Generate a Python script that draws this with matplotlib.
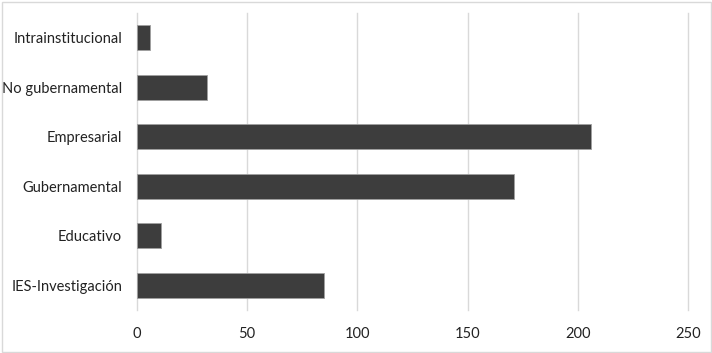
import matplotlib
matplotlib.use("Agg")
import matplotlib.pyplot as plt
from matplotlib.patches import Rectangle

categories = ["IES-Investigación", "Educativo", "Gubernamental",
              "Empresarial", "No gubernamental", "Intrainstitucional"]
values = [85, 11, 171, 206, 32, 6]
xticks = [0, 50, 100, 150, 200, 250]

plt.rcParams["font.family"] = ["Lato", "DejaVu Sans"]

fig = plt.figure(figsize=(7.12, 3.53), dpi=100)
ax = fig.add_axes([136.7 / 712, 1 - 310 / 353, (688.3 - 136.7) / 712, (310 - 13) / 353])

y = range(len(categories))
ax.barh(y, values, height=0.5, color="#3d3d3d", edgecolor="#a0a0a0",
        linewidth=0.6, zorder=3)

ax.set_xlim(0, 250)
ax.set_ylim(-0.5, len(categories) - 0.5)
ax.set_xticks(xticks)
ax.set_yticks(list(y))
ax.set_yticklabels(categories)
ax.grid(axis="x", color="#d9d9d9", linewidth=1.0, zorder=0)
for gl in ax.get_xgridlines():
    gl.set_clip_on(False)
ax.grid(axis="y", visible=False)
for s in ax.spines.values():
    s.set_visible(False)
ax.tick_params(axis="both", length=0, labelsize=10.5, colors="#222222")
ax.tick_params(axis="y", pad=10.5)
ax.tick_params(axis="x", pad=12)

fig.patches.append(Rectangle((1.5 / 712, 1.5 / 353), 709 / 712, 350 / 353,
                             transform=fig.transFigure, fill=False,
                             edgecolor="#d9d9d9", linewidth=1.0))

fig.savefig("out.png", dpi=100)
